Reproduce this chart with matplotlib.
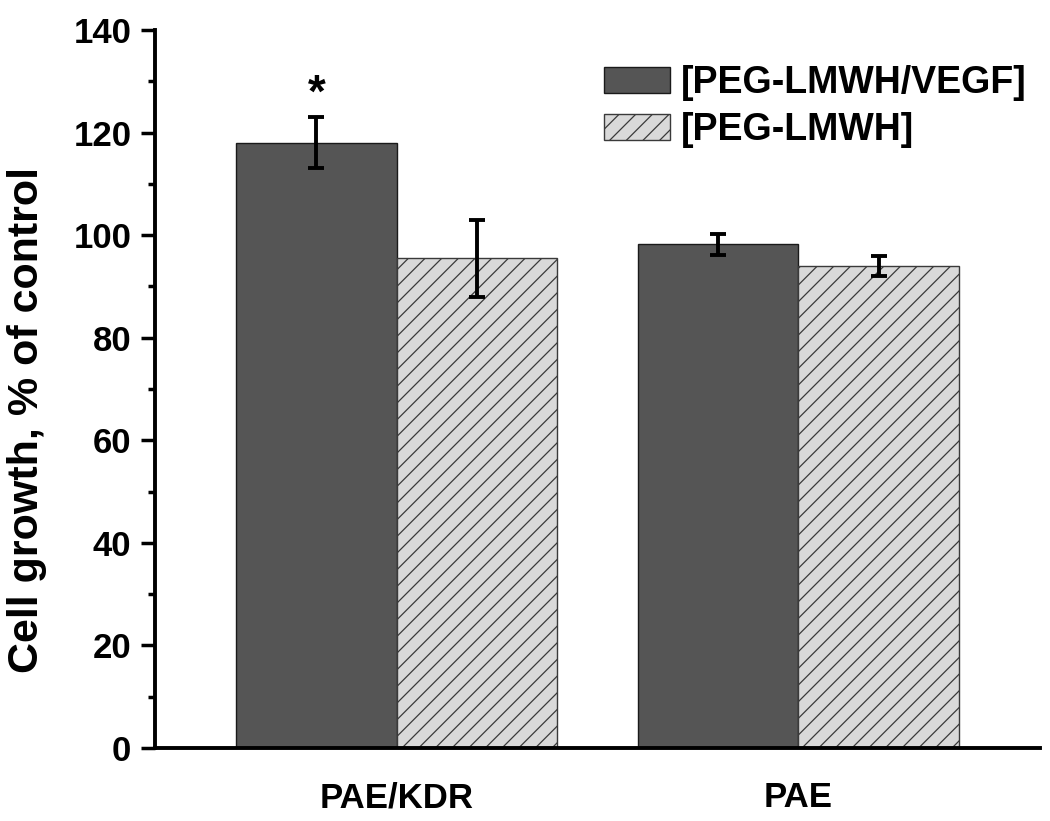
import matplotlib
matplotlib.use("Agg")
import matplotlib.pyplot as plt
import numpy as np

plt.rcParams['font.family'] = ['Liberation Sans', 'DejaVu Sans']
plt.rcParams['font.weight'] = 'bold'
plt.rcParams['hatch.color'] = '#9a9a9a'
plt.rcParams['hatch.linewidth'] = 0.9

groups = ['PAE/KDR', 'PAE']
series_names = ['[PEG-LMWH/VEGF]', '[PEG-LMWH]']
vegf_vals = [118.0, 98.2]
vegf_err = [5.0, 2.1]
lmwh_vals = [95.5, 94.0]
lmwh_err = [7.5, 1.9]
star_y = 125

fig = plt.figure(figsize=(10.5, 8.21), dpi=100)
ax = fig.add_axes([0.1476, 0.0889, 0.8424, 0.8746])

x = np.arange(len(groups))
w = 0.4
ax.bar(x - w/2, vegf_vals, w, color='#555555', edgecolor='#1a1a1a', linewidth=1.0,
       label=series_names[0], zorder=2)
ax.bar(x + w/2, lmwh_vals, w, color='#d9d9d9', edgecolor='#3a3a3a', linewidth=1.0,
       hatch='//', label=series_names[1], zorder=2)
ax.errorbar(x - w/2, vegf_vals, yerr=vegf_err, fmt='none', ecolor='black',
            elinewidth=2.8, capsize=6, capthick=2.8, zorder=3)
ax.errorbar(x + w/2, lmwh_vals, yerr=lmwh_err, fmt='none', ecolor='black',
            elinewidth=2.8, capsize=6, capthick=2.8, zorder=3)
ax.text(x[0] - w/2, star_y, '*', ha='center', va='baseline', fontsize=33, fontweight='bold')

ax.set_xlim(-0.602, 1.6)
ax.set_ylim(0, 140)
ax.set_yticks(np.arange(0, 141, 20))
ax.set_yticks(np.arange(10, 141, 20), minor=True)
ax.set_xticks(x)
ax.set_xticklabels(groups)
ax.tick_params(axis='y', which='major', length=10, width=2.5, labelsize=25, pad=7, direction='out')
ax.tick_params(axis='y', which='minor', length=5, width=2.5, direction='out')
ax.tick_params(axis='x', length=0, labelsize=25, pad=24)
for lab in ax.get_xticklabels() + ax.get_yticklabels():
    lab.set_fontweight('bold')
for s in ['top', 'right']:
    ax.spines[s].set_visible(False)
for s in ['left', 'bottom']:
    ax.spines[s].set_linewidth(2.8)
ax.set_ylabel('Cell growth, % of control', fontsize=31, fontweight='bold')
ax.yaxis.set_label_coords(-0.122, 0.457)

leg = ax.legend(loc='upper right', bbox_to_anchor=(0.985, 0.951), frameon=False,
                handlelength=1.75, handleheight=0.67, handletextpad=0.28,
                labelspacing=0.3, borderpad=0, borderaxespad=0,
                prop={'weight': 'bold', 'size': 27})

fig.savefig('out.png', dpi=100)
